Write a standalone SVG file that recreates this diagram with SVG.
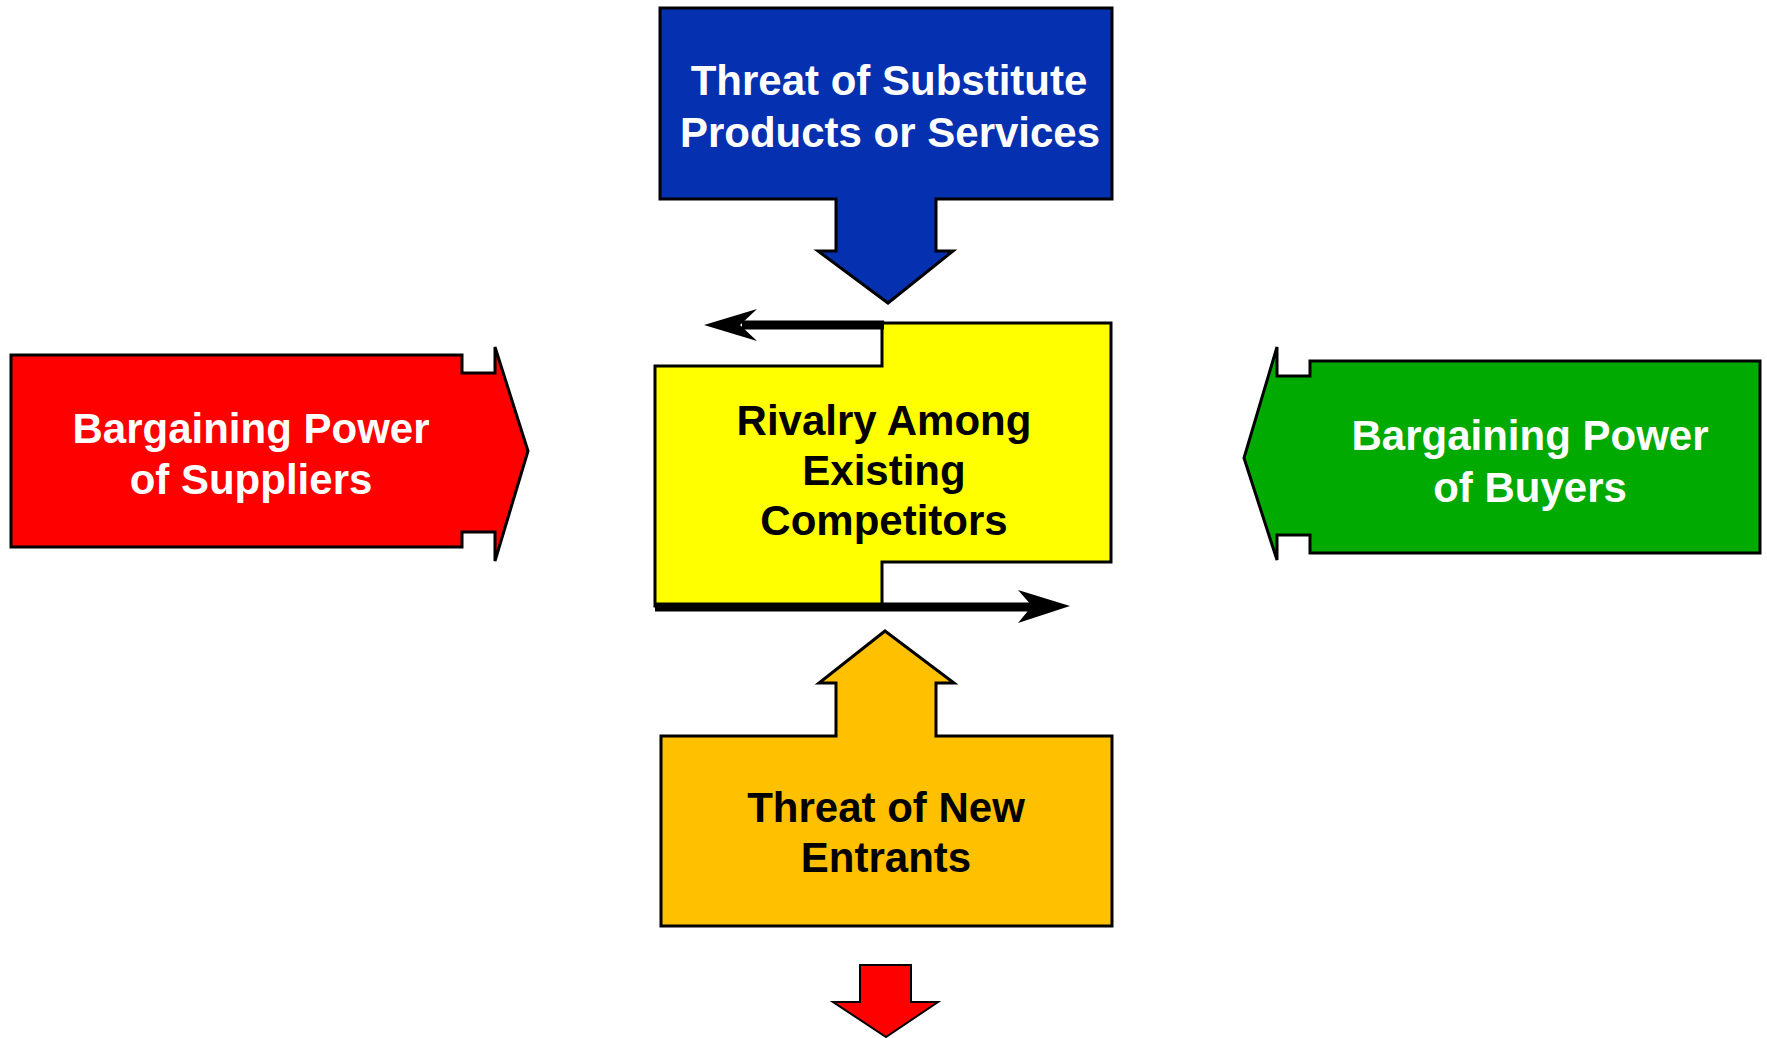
<svg xmlns="http://www.w3.org/2000/svg" width="1767" height="1038" viewBox="0 0 1767 1038">
  <style>
    .shape { stroke: #000; stroke-width: 3; stroke-linejoin: miter; }
    .lbl { font-family: "Liberation Sans", Arial, sans-serif; font-weight: bold; text-anchor: middle; font-size: 42px; }
    .light { fill: #fff; }
    .dark { fill: #000; }
    .flow { stroke: #000; stroke-width: 9; fill: none; }
    .head { fill: #000; stroke: none; }
  </style>
  <rect width="1767" height="1038" fill="#fff"/>

  <!-- Threat of substitutes: box with downward arrow -->
  <g id="substitutes">
    <polygon class="shape" fill="#0530B0" points="660,8 1112,8 1112,199 936,199 936,251 953,251 888,303 818,251 836,251 836,199 660,199"/>
    <text class="lbl light" x="889" y="95">Threat of Substitute</text>
    <text class="lbl light" x="890" y="147">Products or Services</text>
  </g>

  <!-- Supplier power: arrow pointing right -->
  <g id="suppliers">
    <polygon class="shape" fill="#FF0000" points="11,355 462,355 462,373 495,373 495,347 528,451 495,561 495,532 462,532 462,547 11,547"/>
    <text class="lbl light" x="251" y="443">Bargaining Power</text>
    <text class="lbl light" x="251" y="494">of Suppliers</text>
  </g>

  <!-- Buyer power: arrow pointing left -->
  <g id="buyers">
    <polygon class="shape" fill="#00AA00" points="1760,361 1310,361 1310,376 1277,376 1277,347 1244,458 1277,560 1277,535 1310,535 1310,553 1760,553"/>
    <text class="lbl light" x="1530" y="450">Bargaining Power</text>
    <text class="lbl light" x="1530" y="502">of Buyers</text>
  </g>

  <!-- Rivalry among competitors: stepped box -->
  <g id="rivalry">
    <polygon class="shape" fill="#FFFF00" points="655,366 882,366 882,323 1111,323 1111,562 882,562 882,606 655,606"/>
    <text class="lbl dark" x="884" y="435">Rivalry Among</text>
    <text class="lbl dark" x="884" y="485">Existing</text>
    <text class="lbl dark" x="884" y="535">Competitors</text>
  </g>

  <!-- Threat of new entrants: box with upward arrow -->
  <g id="entrants">
    <polygon class="shape" fill="#FFC000" points="885,631 954,683 936,683 936,736 1112,736 1112,926 661,926 661,736 836,736 836,683 819,683"/>
    <text class="lbl dark" x="886" y="822">Threat of New</text>
    <text class="lbl dark" x="886" y="872">Entrants</text>
  </g>

  <!-- Small downward arrow at the foot -->
  <g id="outcome">
    <polygon fill="#FF0000" stroke="#000" stroke-width="2" points="860,965 911,965 911,1002 938,1002 886,1037 833,1002 860,1002"/>
  </g>

  <!-- Rivalry circulation arrows -->
  <g id="connectors">
    <line class="flow" x1="884" y1="325" x2="742" y2="325"/>
    <polygon class="head" points="704,325 757,309 740,325 757,341"/>
    <line class="flow" x1="655" y1="607" x2="1034" y2="607"/>
    <polygon class="head" points="1070,606 1018,590 1032,606 1018,623"/>
  </g>
</svg>
